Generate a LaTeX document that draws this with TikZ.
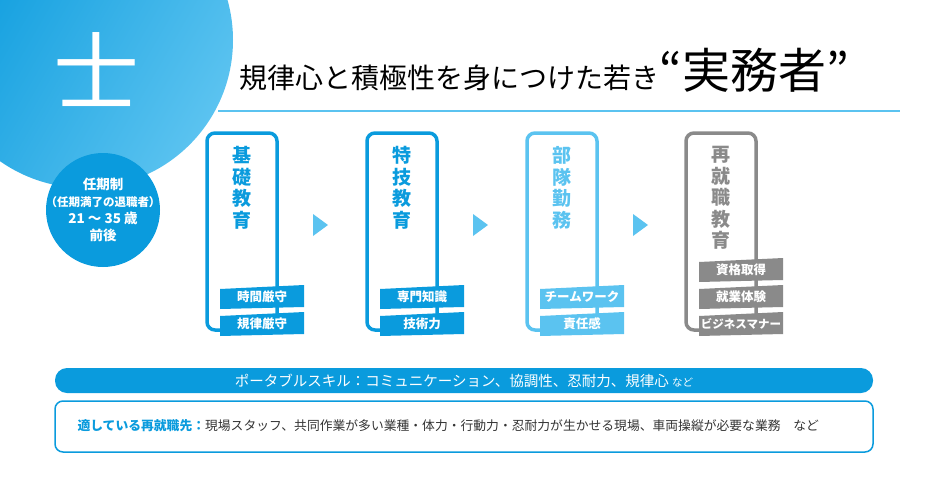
\documentclass[tikz,border=0pt]{standalone}
\usepackage{fontspec}
\setmainfont{Noto Sans CJK JP}
\usetikzlibrary{positioning}
\definecolor{kblue}{HTML}{0A9BDD}
\definecolor{klight}{HTML}{5BC3F0}
\definecolor{kgray}{HTML}{8A8A8A}
\definecolor{ktext}{HTML}{333333}
\tikzset{
  frame/.style={draw=#1, line width=3.5pt, rounded corners=8pt},
  tag/.style={text=white, font=\bfseries\fontsize{12.5}{13}\selectfont},
  step/.style={text=#1, font=\bfseries\fontsize{19}{21.5}\selectfont, align=center, anchor=north},
  next/.style={fill=klight, draw=none},
}
\newcommand{\stepbox}[4]{% x, colour, name, title
  \draw[frame=#2] (#1,133) rectangle (#1+70,330);
  \node[step=#2] (#3) at (#1+35,143) {#4};
}
\newcommand{\tagbox}[5]{% x, y, colour, name, text
  \fill[#3] (#1+13,#2+22) -- (#1+13,#2+2) -- (#1+97,#2-2) -- (#1+97,#2+20) -- cycle;
  \node[tag] (#4) at (#1+55,#2+10) {#5};
}
\begin{document}
\begin{tikzpicture}[x=1pt,y=-1pt]
\useasboundingbox (0,0) rectangle (930,477);
% big circle
\shade[left color=kblue, right color=klight, shading angle=60] (85,40) circle (148);
\node[text=white, font=\fontsize{86}{86}\selectfont] (shi) at (96,70) {士};
% term circle
\fill[kblue] (103,210) circle (57);
\node[text=white, align=center, font=\bfseries\fontsize{13.5}{17}\selectfont] (term) at (103,210)
  {任期制\\{\fontsize{11.5}{15}\selectfont （任期満了の退職者）}\\21 ～ 35 歳\\前後};
% title
\node[anchor=base west, font=\fontsize{28}{28}\selectfont] (title) at (236,88)
  {規律心と積極性を身につけた若き{\fontsize{48}{48}\selectfont “実務者”}};
\draw[klight, line width=1.5pt] (218,111) -- (900,111);
% steps
\stepbox{207}{kblue}{kiso}{基\\礎\\教\\育}
\stepbox{367}{kblue}{tokugi}{特\\技\\教\\育}
\stepbox{527}{klight}{butai}{部\\隊\\勤\\務}
\stepbox{686}{kgray}{saishu}{再\\就\\職\\教\\育}
% arrows
\foreach \x in {313,473,633}
  \fill[next] (\x,214) -- (\x+15,225) -- (\x,236) -- cycle;
% tags
\tagbox{207}{287}{kblue}{t1}{時間厳守}
\tagbox{207}{314}{kblue}{t2}{規律厳守}
\tagbox{367}{287}{kblue}{t3}{専門知識}
\tagbox{367}{314}{kblue}{t4}{技術力}
\tagbox{527}{287}{klight}{t5}{チームワーク}
\tagbox{527}{314}{klight}{t6}{責任感}
\tagbox{686}{260}{kgray}{t7}{資格取得}
\tagbox{686}{287}{kgray}{t8}{就業体験}
\tagbox{686}{314}{kgray}{t9}{\fontsize{11.5}{12}\selectfont ビジネスマナー}
% skills bar
\fill[kblue, rounded corners=12pt] (55,368) rectangle (873,393);
\node[text=white, font=\fontsize{14.5}{14.5}\selectfont] (skill) at (464,380.5)
  {ポータブルスキル：コミュニケーション、協調性、忍耐力、規律心 {\fontsize{10.5}{10.5}\selectfont など}};
% jobs box
\draw[kblue, line width=1.5pt, rounded corners=8pt] (55,401) rectangle (873,452);
\node[anchor=west, text=ktext, font=\fontsize{12.8}{14}\selectfont] (jobs) at (74,426)
  {{\color{kblue}\bfseries 適している再就職先：}現場スタッフ、共同作業が多い業種・体力・行動力・忍耐力が生かせる現場、車両操縦が必要な業務\quad など};
\end{tikzpicture}
\end{document}
